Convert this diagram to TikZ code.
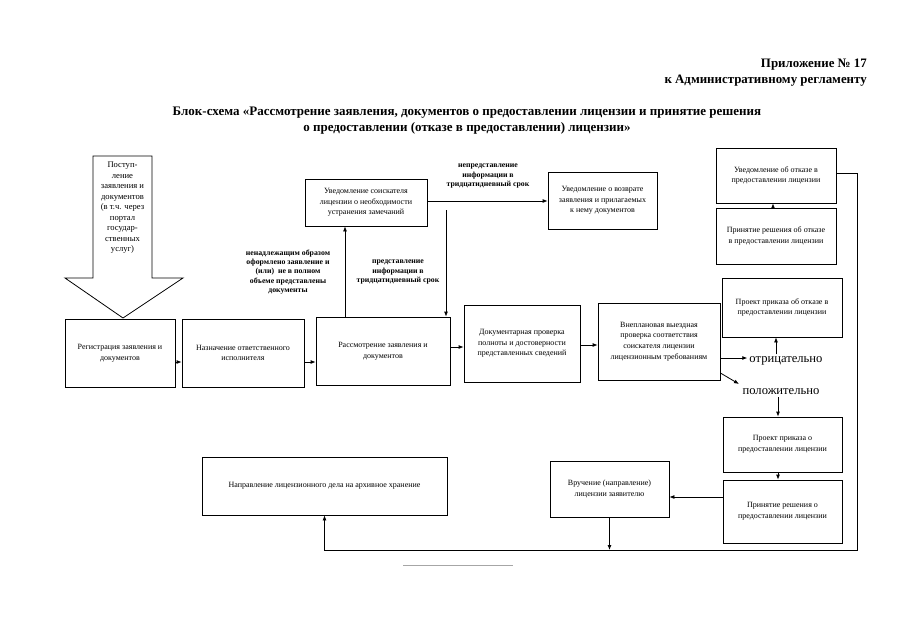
\documentclass[tikz,border=0pt]{standalone}
\usepackage{fontspec}
\setmainfont{Liberation Serif}
\usetikzlibrary{arrows.meta}
\begin{document}
\begin{tikzpicture}[x=1pt,y=-1pt,
  box/.style={draw, line width=0.8pt, align=center, inner sep=1pt, font=\fontsize{8}{10.6}\selectfont},
  lbl/.style={align=center, inner sep=0pt, font=\bfseries\fontsize{7.8}{9.2}\selectfont},
  res/.style={inner sep=2pt, font=\fontsize{12.6}{14}\selectfont},
  con/.style={line width=0.8pt},
  arr/.style={con, -{Latex[length=5pt,width=4pt]}},
  head/.style={inner sep=0pt, font=\bfseries\fontsize{12.9}{15}\selectfont},
]
\useasboundingbox (0,0) rectangle (905,640);
\fill[white] (0,0) rectangle (905,640);

% header and title
\node[head, anchor=east] (h1) at (867,65) {Приложение № 17};
\node[head, anchor=east] (h2) at (867,81) {к Административному регламенту};
\node[head, align=center, font=\bfseries\fontsize{13}{16}\selectfont] (title) at (467,121)
  {Блок-схема «Рассмотрение заявления, документов о предоставлении лицензии и принятие решения\\о предоставлении (отказе в предоставлении) лицензии»};

% incoming block arrow
\draw[con, fill=white] (93,156) -- (152,156) -- (152,278) -- (183,278) -- (123,318) -- (65,278) -- (93,278) -- cycle;
\node[align=center, inner sep=0pt, font=\fontsize{8.6}{10.5}\selectfont] (inc) at (122.5,208)
  {Поступ-\\ление\\заявления и\\документов\\(в т.ч. через\\портал\\государ-\\ственных\\услуг)};

% boxes
\node[box, minimum width=110, minimum height=68] (reg) at (120,353) {Регистрация заявления и\\документов};
\node[box, minimum width=122, minimum height=68] (nazn) at (243,353) {Назначение ответственного\\исполнителя};
\node[box, minimum width=134, minimum height=68] (rassm) at (383,351) {Рассмотрение заявления и\\документов};
\node[box, minimum width=116, minimum height=77] (dok) at (522,343.5) {Документарная проверка\\полноты и достоверности\\представленных сведений};
\node[box, minimum width=122, minimum height=77] (vnepl) at (659,341.5) {Внеплановая выездная\\проверка соответствия\\соискателя лицензии\\лицензионным требованиям};
\node[box, minimum width=122, minimum height=47] (uvz) at (366,202.5) {Уведомление соискателя\\лицензии о необходимости\\устранения замечаний};
\node[box, minimum width=109, minimum height=57] (vozvr) at (602.5,200.5) {Уведомление о возврате\\заявления и прилагаемых\\к нему документов};
\node[box, minimum width=120, minimum height=55] (uvotk) at (776,175.5) {Уведомление об отказе в\\предоставлении лицензии};
\node[box, minimum width=120, minimum height=56] (prinotk) at (776,236) {Принятие решения об отказе\\в предоставлении лицензии};
\node[box, minimum width=120, minimum height=59] (proekotk) at (782,307.5) {Проект приказа об отказе в\\предоставлении лицензии};
\node[box, minimum width=119, minimum height=55] (proekpol) at (782.5,444.5) {Проект приказа о\\предоставлении лицензии};
\node[box, minimum width=119, minimum height=63] (prinpol) at (782.5,511.5) {Принятие решения о\\предоставлении лицензии};
\node[box, minimum width=119, minimum height=56] (vruch) at (609.5,489) {Вручение (направление)\\лицензии заявителю};
\node[box, minimum width=245, minimum height=58] (arch) at (324.5,486) {Направление лицензионного дела на архивное хранение};

% result words
\node[res] (neg) at (786,361) {отрицательно};
\node[res] (pos) at (781,392) {положительно};

% labels
\node[lbl] (l1) at (288,272) {ненадлежащим образом\\оформлено заявление и\\(или)\ \ не в полном\\объеме представлены\\документы};
\node[lbl] (l2) at (398,272) {представление\\информации в\\тридцатидневный срок};
\node[lbl] (l3) at (488,176) {непредставление\\информации в\\тридцатидневный срок};

% connectors
\coordinate (ret) at (446,210);
\coordinate (dg) at (739,384);
\coordinate (cR) at (857,550);
\draw[arr] (reg.east |- 0,362) -- (nazn.west |- 0,362);
\draw[arr] (nazn.east |- 0,362) -- (rassm.west |- 0,362);
\draw[arr] (rassm.east |- 0,347) -- (dok.west |- 0,347);
\draw[arr] (dok.east |- 0,345) -- (vnepl.west |- 0,345);
\draw[arr] (vnepl.east |- 0,358) -- (neg.west |- 0,358);
\draw[arr] (vnepl.east |- 0,373) -- (dg);
\draw[arr] (neg.north -| 776,0) -- (proekotk.south -| 776,0);
\draw[arr] (pos.south -| 778,0) -- (proekpol.north -| 778,0);
\draw[arr] (proekpol.south -| 778,0) -- (prinpol.north -| 778,0);
\draw[arr] (prinpol.west |- 0,497) -- (vruch.east |- 0,497);
\draw[arr] (prinotk.north -| 773,0) -- (uvotk.south -| 773,0);
\draw[arr] (uvz.east |- 0,201) -- (vozvr.west |- 0,201);
\draw[arr] (rassm.north -| 345,0) -- (uvz.south -| 345,0);
\draw[arr] (ret) -- (rassm.north -| ret);
\draw[arr] (uvotk.east |- 0,173) -| (cR) -| (arch.south);
\draw[arr] (vruch.south) -- (vruch.south |- cR);

% short underline at the bottom
\draw[gray!70, line width=0.8pt] (403,565) -- (513,565);
\end{tikzpicture}
\end{document}
